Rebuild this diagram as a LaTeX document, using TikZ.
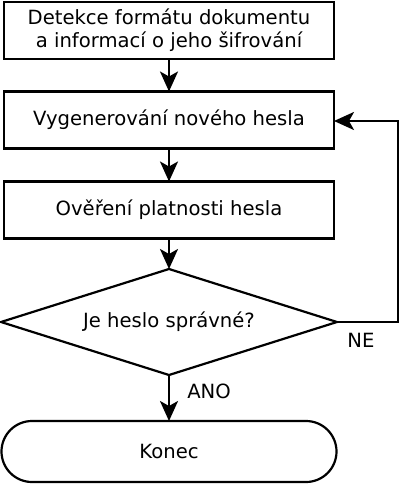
\documentclass[tikz,border=0pt]{standalone}
\usepackage{fontspec}
\setmainfont{DejaVu Sans}
\usetikzlibrary{shapes.geometric,shapes.misc,arrows.meta}
\begin{document}
\begin{tikzpicture}[x=1pt,y=1pt,
  every node/.style={font=\fontsize{19.6}{23}\selectfont, outer sep=0pt, inner sep=0pt},
  procbox/.style={draw, line width=2.2pt, rectangle, minimum width=330pt, minimum height=57pt, align=center},
  decbox/.style={draw, line width=2.2pt, diamond, aspect=3.17, minimum width=336pt, minimum height=106pt},
  endbox/.style={draw, line width=2.2pt, rounded rectangle, minimum width=335pt, minimum height=61pt},
  flow/.style={line width=2.2pt, -{Stealth[length=20pt, width=18pt, inset=5pt]}},
  lbl/.style={font=\fontsize{19.6}{23}\selectfont}]
\useasboundingbox (0,0) rectangle (400,-484);
\node[procbox] (detect) at (169,-30.5) {Detekce formátu dokumentu\\a informací o jeho šifrování};
\node[procbox] (gen) at (169,-120) {Vygenerování nového hesla};
\node[procbox] (verify) at (169,-210) {Ověření platnosti hesla};
\node[decbox] (dec) at (169,-322) {Je heslo správné?};
\node[endbox] (end) at (169,-451.5) {Konec};
\coordinate (loopA) at (398,-322);
\coordinate (loopB) at (398,-121);
\draw[flow] (detect.south) -- (gen.north);
\draw[flow] (gen.south) -- (verify.north);
\draw[flow] (verify.south) -- (dec.north);
\draw[flow] (dec.south) -- (end.north);
\draw[flow] (dec.east) -- (loopA) -- (loopB) -- (gen.east |- loopB);
\node[lbl] (ano) at (209,-391) {ANO};
\node[lbl] (ne) at (361,-340) {NE};
\end{tikzpicture}
\end{document}
